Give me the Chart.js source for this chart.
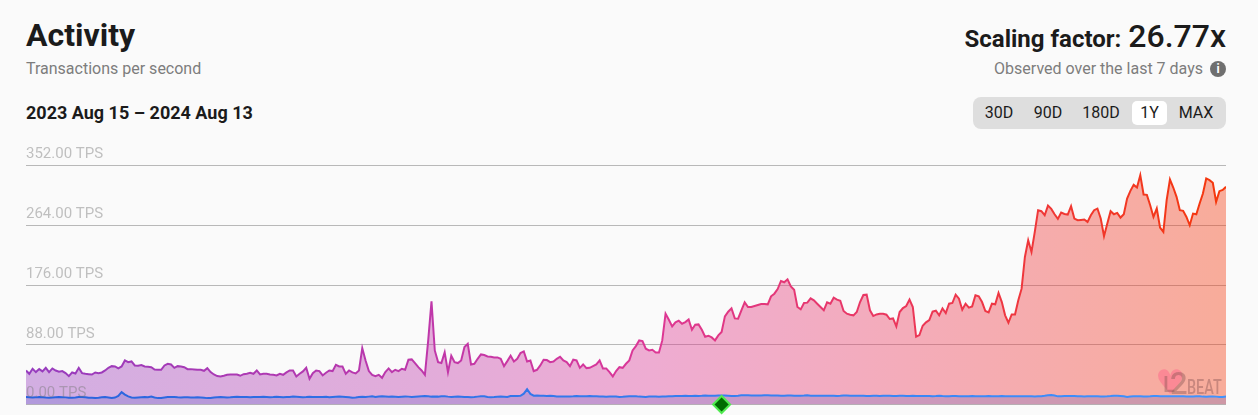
<!DOCTYPE html>
<html>
<head>
<meta charset="utf-8">
<title>Activity</title>
<script src="https://cdn.jsdelivr.net/npm/chart.js@4"></script>
<style>
  html, body { margin: 0; padding: 0; background: #fafafa; }
  body { width: 1258px; height: 415px; position: relative; overflow: hidden; font-family: Roboto, sans-serif; color: #1b1b1b; }
  .txt { position: absolute; white-space: nowrap; }
  #title { left: 26px; top: 17px; font-size: 32px; line-height: 36px; font-weight: 700; }
  #sub { left: 26px; top: 59px; font-size: 16px; line-height: 19px; color: #7d7d7d; }
  #range { left: 26px; top: 102px; font-size: 18px; line-height: 22px; font-weight: 700; }
  #scaling { right: 32px; top: 18px; line-height: 36px; font-size: 24px; font-weight: 700; }
  #scaling b { font-size: 32px; font-weight: 500; margin-left: 1px; }
  #observed { right: 55px; top: 59px; font-size: 16px; line-height: 19px; color: #7d7d7d; }
  #info { position: absolute; left: 1210px; top: 61px; width: 16px; height: 16px; border-radius: 50%; background: #6f6f6f; color: #fff; font-size: 12px; line-height: 16px; font-weight: 700; text-align: center; }
  #btns { position: absolute; left: 973px; top: 97px; width: 253px; height: 32px; border-radius: 8px; background: #dedede; }
  #btns span { position: absolute; top: 4px; height: 24px; line-height: 24px; text-align: center; font-size: 16px; font-weight: 400; border-radius: 5px; }
  #wrap { position: absolute; left: 26px; top: 135px; width: 1200px; height: 280px; }
  #wm { position: absolute; left: 1157px; top: 368px; width: 66px; height: 30px; pointer-events: none; }
  #wm span { position: absolute; white-space: nowrap; }
</style>
</head>
<body>
<div class="txt" id="title">Activity</div>
<div class="txt" id="sub">Transactions per second</div>
<div class="txt" id="range">2023 Aug 15 – 2024 Aug 13</div>
<div class="txt" id="scaling">Scaling factor: <b>26.77x</b></div>
<div class="txt" id="observed">Observed over the last 7 days</div>
<div id="info">i</div>
<div id="btns">
  <span style="left:4px;width:44px">30D</span>
  <span style="left:53px;width:44px">90D</span>
  <span style="left:102px;width:52px">180D</span>
  <span style="left:159px;width:35px;background:#fff">1Y</span>
  <span style="left:200px;width:46px">MAX</span>
</div>
<div id="wrap"><canvas id="activity"></canvas></div>
<div id="wm">
  <span style="left:-2px;top:-3px;font:34px/34px 'DejaVu Sans';color:rgba(255,110,140,.55)">♥</span>
  <span style="left:6px;top:6px;font:500 22px/22px Roboto;color:rgba(130,80,80,.4)">L</span>
  <span style="left:13px;top:0;font:500 31px/31px Roboto;color:rgba(130,80,80,.4)">2</span>
  <span style="left:30px;top:9px;font:500 20px/20px Roboto;color:rgba(130,80,80,.4);transform:scaleX(.72);transform-origin:left">BEAT</span>
</div>
<script>
const startDate = new Date(Date.UTC(2023, 7, 15));

const tickValues = [0, 88, 176, 264, 352];

// Ethereum, TPS
const ethereum = [
  11,10.8,10.2,10.5,11,10.8,10.2,9.8,10.2,10.8,11,10.8,10.5,9.8,10,10.4,11,11.2,10.6,10,
  9.8,9.4,9.8,10.6,11,10.4,9.6,10.2,12.6,18.2,14.6,12,10.4,9.8,10.2,10.6,11,10.6,11.6,10.4,
  9.4,9.6,10.4,11,11.2,11,10.6,10.4,10.8,10.6,10.2,10.4,10.6,10.4,10,9.4,9.6,10.4,10.8,11,
  10.8,10.2,10.6,11.2,11.4,11.2,11.2,11,10.8,11,11.2,11,11.4,11.2,10.8,11,11.4,11.2,10.8,11,
  11.2,11.6,11.4,11.2,10.8,11,11.4,11.2,11,11,11.2,11.4,10.6,11.2,11.4,11.6,11.4,11.2,10.6,10,
  10.4,11,11.4,11.2,11.6,12,11,11.8,12,11.8,11.4,11.6,11.4,11,11.4,11.8,11.6,11,11.4,11.8,
  12.2,12.4,12,11.6,11.8,11.6,12,12.2,11.6,11.2,11.4,11.6,11.4,11.2,11,10.8,11,11.6,12,12.2,
  11.2,10.8,11,11.4,11.6,11.4,11.2,12.4,12.6,12.4,12.8,16,22.4,15.6,13,13.4,12.8,13,12.6,12.8,
  12.4,11.8,11.6,11.6,11.8,11.8,12,12.4,12.2,12.2,12,12.4,12.2,12.2,11.8,11.6,11.4,11.6,11.6,11.8,
  11.2,11.4,11.8,12.2,12,12,11.6,11.4,11.2,11.6,11.6,11.8,11.4,11.6,11.8,12,12.2,12.6,12.4,12.4,
  12.8,12.4,12.6,12.8,12.6,12.8,13.2,13,12.8,13,13.2,13.2,13.4,13,12.6,12.6,13,13.6,13.8,13.6,
  13.4,13.4,13.2,13.4,13.8,13.6,13.4,13.2,13.2,13,13,13.2,13.2,13,12.8,13,13.2,13.6,13,12.8,
  12.8,12.8,12.8,13,13,12.8,12.6,12.8,13.2,13.4,13,12.8,12.8,12.8,12.8,12.6,12.6,12.8,12.8,12.6,
  12.8,13,12.8,12.6,12.4,12.8,13,12.6,12.6,12.8,12.6,12.6,12.4,12.6,12.6,12.2,12.4,12.8,12.4,12.2,
  12.2,12.4,12.4,12.2,12,12,12.2,12.4,12.2,12,12,12.2,12.6,12.2,12,12,12.4,12.2,12.2,12,
  12,12,12.2,12,12.2,12,11.8,12,12.2,12.8,13.6,14,13.2,12,12.2,12.6,12.6,12.6,12.4,12.2,
  12,11.8,12,12,12,12.2,11.8,11.8,12,12.4,13,13,12.6,12,11.2,11.8,12.2,12.2,12,11.8,
  11.8,12,12.4,12.4,12.2,12,12,12,12,12.2,12.2,12,11.8,11.6,11.8,12.2,12,11.6,11.4,11.6,
  11.8,11.6,11.2,11.2,11.8
];

// Layer 2 projects, TPS
const projects = [
  50.1,45.2,52.6,47.7,52.1,48.7,54,47.7,53.1,50.1,48.2,49.2,46.2,41.8,47.2,45.7,54,46.2,45.2,44.7,
  44.2,47.2,46.2,47.2,50.1,54,56.5,56,53.1,56,64.9,62.4,63.4,57.5,57,58,56,55.5,55,51.6,
  51.1,51.1,57.5,60,59,54,56.5,56,55,52.1,52.1,51.6,51.1,51.1,49.6,53.6,47.7,44.2,41.8,41.3,
  42.3,43.7,44.2,44.2,44.2,42.3,44.7,45.2,46.7,45.2,50.1,44.2,45.2,45.2,44.2,43.7,42.8,45.2,43.7,47.2,
  50.1,50.1,41.3,45.2,48.7,54,37.9,46.2,50.1,
  49.2,42.8,46.7,50.1,49.2,58.5,56,56,45.2,50.1,47.2,45.7,50.1,83.1,64.9,49.2,43.7,41.8,43.7,39.3,
  47.7,53.1,47.7,51.1,49.2,52.6,51.1,65.9,66.4,61,55,50.1,43.7,94.4,151.9,79.6,62.4,61,76.7,47.7,
  71.8,62.4,61,64.9,84.6,89.5,59,60,67.3,73.7,72.8,70.8,70.3,69.3,69.3,67.3,56.5,63.9,71.8,63.4,
  67.3,75.7,78.2,63.4,64.9,49.2,51.1,57.5,65.9,65.4,62.4,63.4,67.3,70.3,64.9,62.4,56.5,65.9,64.9,54,
  59,53.6,54,56.5,59,64.9,53.1,53.1,47.7,41.3,49.2,55,54,60,64.9,79.6,86,94.4,
  93.4,82.1,79.6,80.6,76.7,76.7,94.4,133.7,124.9,115,121,123.4,119,121.4,125.4,110.1,117.5,118,110.1,99.8,
  101.3,98.8,94.4,101.8,106.7,129.8,136.7,141.6,126.8,126.4,138.7,150.4,143.6,143.6,145,146.5,148,148,147.5,159.3,
  163.2,170.1,181.9,180,184.4,174,169.1,143.6,140.1,149.5,150,156.3,153.4,148.5,143.6,138.7,150.4,148.5,157.3,154.4,
  152.9,137.7,133.7,132.3,131.3,136.2,150.9,161.3,161.8,138.7,130.3,132.7,133.7,133.7,132.3,125.9,126.8,115,136.2,142.1,
  145,154.4,143.6,99.8,102.3,116,121,124.4,136.7,138.2,131.3,
  141.6,134.7,148.5,149.5,161.8,155.9,139.6,148.5,142.6,144.5,160.8,159.3,150.9,137.7,135.7,148.5,147.5,164.2,150.9,131.3,
  120.4,132.7,132.7,153.4,170.6,
  217.3,241.9,224.7,254.2,286.2,284.7,278.8,293,288.1,280.2,273.4,282.7,280.7,279.8,292,273.9,271.4,271.9,272.4,268.9,
  278.8,286.2,288.6,273.9,247.8,266.5,284.7,280.2,282.2,275.3,280.2,303.4,314.7,323.5,319.6,337.8,309.3,308.8,293.5,276.3,
  288.6,260.6,254.2,300.9,331.4,319.6,305.8,286.2,285.2,276.3,264,281.2,280.2,296,310.7,332.9,330.4,326.5,298.4,314.2,
  316.1,320.6
];

const milestoneDays = ['2024-03-13'];

const days = projects.map(function (v, i) {
  return new Date(startDate.getTime() + i * 86400000).toISOString().slice(0, 10);
});
const milestones = days.map(function (d) {
  return milestoneDays.includes(d) ? 0 : null;
});

function sweep(context, alpha) {
  var area = context.chart.chartArea;
  if (!area) return 'transparent';
  var g = context.chart.ctx.createLinearGradient(area.left, 0, area.right, 0);
  g.addColorStop(0, 'rgba(150,60,190,' + alpha + ')');
  g.addColorStop(0.33, 'rgba(190,55,170,' + alpha + ')');
  g.addColorStop(0.52, 'rgba(220,55,150,' + alpha + ')');
  g.addColorStop(0.73, 'rgba(235,55,90,' + alpha + ')');
  g.addColorStop(1, 'rgba(245,55,10,' + alpha + ')');
  return g;
}

function blueLine(context) {
  var area = context.chart.chartArea;
  if (!area) return '#2f6fe0';
  var g = context.chart.ctx.createLinearGradient(area.left, 0, area.right, 0);
  g.addColorStop(0, '#2a62dc');
  g.addColorStop(1, '#3f93ff');
  return g;
}

new Chart(document.getElementById('activity'), {
  type: 'line',
  data: {
    labels: days,
    datasets: [
      {
        label: 'Milestones',
        data: milestones,
        showLine: false,
        clip: false,
        pointStyle: 'rectRot',
        pointRadius: 8.5,
        pointBackgroundColor: '#006b00',
        pointBorderColor: '#4fea4f',
        pointBorderWidth: 2,
        order: 0
      },
      {
        label: 'Ethereum',
        data: ethereum,
        borderColor: blueLine,
        backgroundColor: 'rgba(80,90,200,0.25)',
        borderWidth: 2,
        fill: 'origin',
        pointRadius: 0,
        tension: 0,
        order: 1
      },
      {
        label: 'Projects',
        data: projects,
        borderColor: function (context) { return sweep(context, 1); },
        backgroundColor: function (context) { return sweep(context, 0.4); },
        borderWidth: 2,
        fill: 'origin',
        pointRadius: 0,
        tension: 0,
        order: 2
      }
    ]
  },
  options: {
    responsive: true,
    maintainAspectRatio: false,
    animation: false,
    layout: { autoPadding: false, padding: { top: 30.5, bottom: 10.5, left: 0, right: 0 } },
    plugins: { legend: { display: false }, tooltip: { enabled: false } },
    scales: {
      x: { display: false, offset: false },
      y: {
        min: 0,
        max: 352,
        afterBuildTicks: function (axis) {
          axis.ticks = tickValues.map(function (v) { return { value: v }; });
        },
        border: { display: false },
        grid: { color: '#b8b8b8', drawTicks: false, tickLength: 0 },
        ticks: {
          mirror: true,
          padding: 0,
          labelOffset: -11,
          z: 1,
          color: 'rgba(120,120,120,0.45)',
          font: { family: 'Roboto', size: 15 },
          callback: function (v) { return v.toFixed(2) + ' TPS'; }
        }
      }
    }
  }
});
</script>
</body>
</html>
